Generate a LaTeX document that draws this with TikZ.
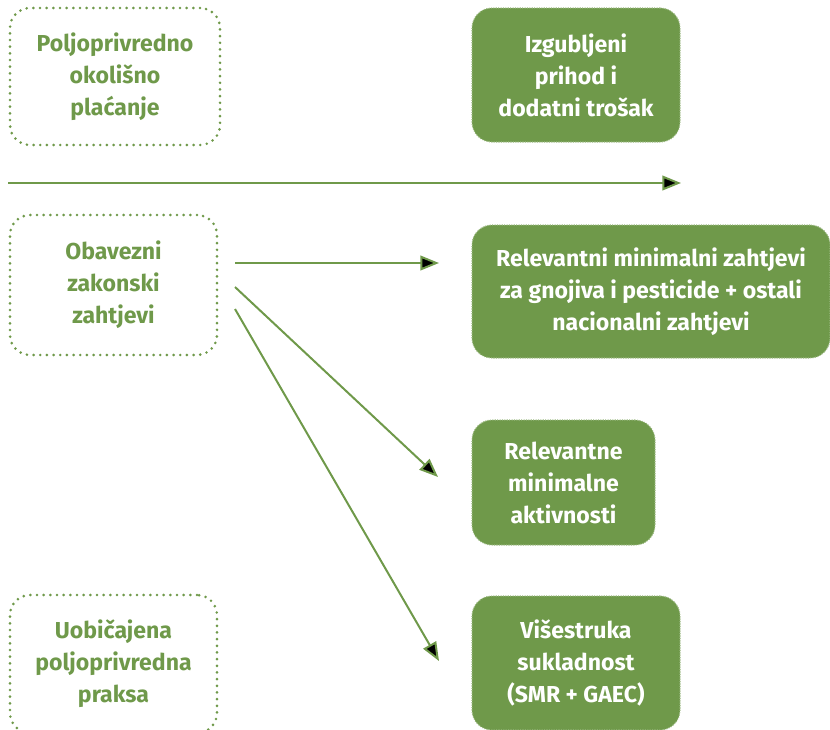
\documentclass[tikz,border=0pt]{standalone}
\usepackage{fontspec}
\setmainfont{Fira Sans}
\usepackage{tikz}
\usetikzlibrary{arrows.meta}
\definecolor{leaf}{RGB}{111,153,74}
\tikzset{
    >={Triangle[length=14pt,width=11pt]},
    font=\bfseries\fontsize{17.3}{24}\selectfont,
    plain box/.style={draw=leaf,line width=2.2pt,dash pattern=on 0pt off 5pt,line cap=round,
        rounded corners=15pt,text=leaf,align=center,inner sep=0pt},
    filled box/.style={fill=leaf,draw=leaf!70!white,line width=0.8pt,densely dotted,
        rounded corners=15pt,text=white,align=center,inner sep=0pt},
    link/.style={draw=leaf,line width=1.5pt}
}

\begin{document}
\begin{tikzpicture}[x=0.75pt,y=-0.75pt]
    \useasboundingbox (0,0) rectangle (830,729);
    % left column
    \node[plain box, minimum width=157.5pt, minimum height=102.75pt] (payment) at (115,76.5) {Poljoprivredno\\okolišno\\plaćanje};
    \node[plain box, minimum width=155.25pt, minimum height=105pt] (statutory) at (113.5,285) {Obavezni\\zakonski\\zahtjevi};
    \node[plain box, minimum width=155.25pt, minimum height=103.5pt] (practice) at (113.5,664) {Uobičajena\\poljoprivredna\\praksa};
    % right column
    \node[filled box, minimum width=156pt, minimum height=100.5pt] (loss) at (576,75) {Izgubljeni\\prihod i\\dodatni trošak};
    \node[filled box, minimum width=268.5pt, minimum height=99.75pt] (minreq) at (651,291.5) {Relevantni minimalni zahtjevi\\za gnojiva i pesticide + ostali\\nacionalni zahtjevi};
    \node[filled box, minimum width=137.25pt, minimum height=93.75pt] (minact) at (563.5,482.5) {Relevantne\\minimalne\\aktivnosti};
    \node[filled box, minimum width=156pt, minimum height=100.5pt] (cross) at (576,663) {Višestruka\\sukladnost\\(SMR + GAEC)};
    % arrow ends
    \coordinate (axis start) at (8,183);
    \coordinate (axis end) at (681,183);
    \coordinate (s1) at (235,263);
    \coordinate (s2) at (235,287);
    \coordinate (s3) at (235,309);
    \coordinate (e1) at (439,263);
    \coordinate (e2) at (438,477);
    \coordinate (e3) at (439,661);
    \path[link]
        (axis start) edge [->] (axis end)
        (s1) edge [->] (e1)
        (s2) edge [->] (e2)
        (s3) edge [->] (e3)
        ;
\end{tikzpicture}
\end{document}
